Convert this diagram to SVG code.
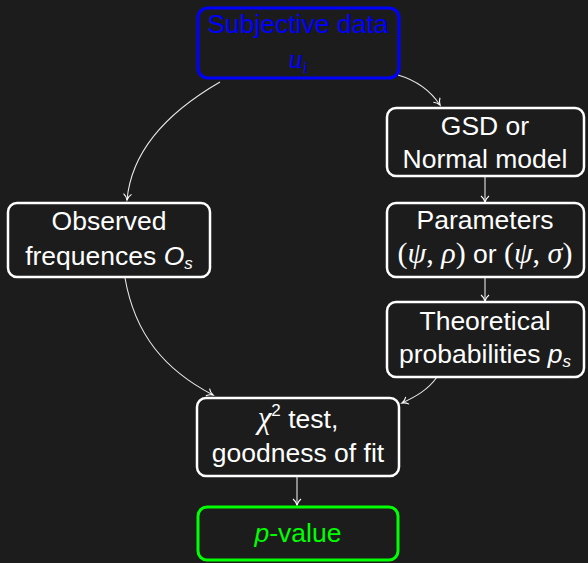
<svg xmlns="http://www.w3.org/2000/svg" width="588" height="563" viewBox="0 0 588 563">
<style>
.box{fill:#1c1c1c;stroke:#ffffff;stroke-width:2.5}
.t{font-family:"Liberation Sans",Arial,sans-serif;font-size:26.5px;fill:#ffffff;text-anchor:middle}
.m{font-family:"Liberation Serif","Times New Roman",serif;font-style:italic}
.r{font-family:"Liberation Serif","Times New Roman",serif}
.e{fill:none;stroke:#e8e8e8;stroke-width:1.1}
</style>
<defs>
<marker id="ar" markerWidth="12" markerHeight="12" viewBox="-8 -6 10 12" refX="0" refY="0" orient="auto" markerUnits="userSpaceOnUse">
<path d="M-6,-4 C-4,-1.5 -1.5,-0.4 0,0 C-1.5,0.4 -4,1.5 -6,4" fill="none" stroke="#ffffff" stroke-width="1.1"/>
</marker>
</defs>
<rect width="588" height="563" fill="#1c1c1c"/>
<g id="connectors">
<path class="e" d="M220,82 C175,108 132,145 127,200" marker-end="url(#ar)"/>
<path class="e" d="M398,75 C415,80 430,90 440,105" marker-end="url(#ar)"/>
<path class="e" d="M485,176 L485,202" marker-end="url(#ar)"/>
<path class="e" d="M485,277 L485,301" marker-end="url(#ar)"/>
<path class="e" d="M125,278 C135,335 165,370 213,395" marker-end="url(#ar)"/>
<path class="e" d="M437,377 C428,390 415,397 402,403" marker-end="url(#ar)"/>
<path class="e" d="M297,477 L297,505" marker-end="url(#ar)"/>
</g>
<g id="subjective">
<rect x="198" y="8" width="201" height="70" rx="10" fill="#1c1c1c" stroke="#0000ff" stroke-width="3"/>
<text class="t" x="298" y="33" style="fill:#0000ff">Subjective data</text>
<text class="t" x="298" y="68" style="fill:#0000ff"><tspan class="m" font-size="28">u</tspan><tspan class="m" font-size="17" dy="5">i</tspan></text>
</g>
<g id="gsd">
<rect class="box" x="387" y="108" width="197" height="68" rx="9"/>
<text class="t" x="485" y="135">GSD or</text>
<text class="t" x="485" y="168">Normal model</text>
</g>
<g id="params">
<rect class="box" x="387" y="203" width="197" height="74" rx="9"/>
<text class="t" x="485" y="229">Parameters</text>
<text class="t" x="485" y="263"><tspan class="r" font-size="30">(</tspan><tspan class="m" font-size="30">ψ</tspan><tspan class="r" font-size="30">, </tspan><tspan class="m" font-size="30">ρ</tspan><tspan class="r" font-size="30">)</tspan> or <tspan class="r" font-size="30">(</tspan><tspan class="m" font-size="30">ψ</tspan><tspan class="r" font-size="30">, </tspan><tspan class="m" font-size="30">σ</tspan><tspan class="r" font-size="30">)</tspan></text>
</g>
<g id="theoretical">
<rect class="box" x="387" y="302" width="197" height="75" rx="9"/>
<text class="t" x="485" y="330">Theoretical</text>
<text class="t" x="485" y="363">probabilities <tspan font-style="italic">p</tspan><tspan font-style="italic" font-size="17" dy="4">s</tspan></text>
</g>
<g id="observed">
<rect class="box" x="8" y="203" width="202" height="74" rx="9"/>
<text class="t" x="109" y="230">Observed</text>
<text class="t" x="109" y="265">frequences <tspan font-style="italic">O</tspan><tspan font-style="italic" font-size="17" dy="4">s</tspan></text>
</g>
<g id="chi2">
<rect class="box" x="197" y="398" width="202" height="78" rx="9"/>
<text class="t" x="298" y="428"><tspan class="m" font-size="31">χ</tspan><tspan font-size="17" dy="-12">2</tspan><tspan dy="12"> test,</tspan></text>
<text class="t" x="298" y="462">goodness of fit</text>
</g>
<g id="pvalue">
<rect x="198" y="507" width="200" height="53" rx="9" fill="#1c1c1c" stroke="#00ff00" stroke-width="3"/>
<text class="t" x="298" y="542" style="fill:#00ff00"><tspan font-style="italic">p</tspan>-value</text>
</g>
</svg>
